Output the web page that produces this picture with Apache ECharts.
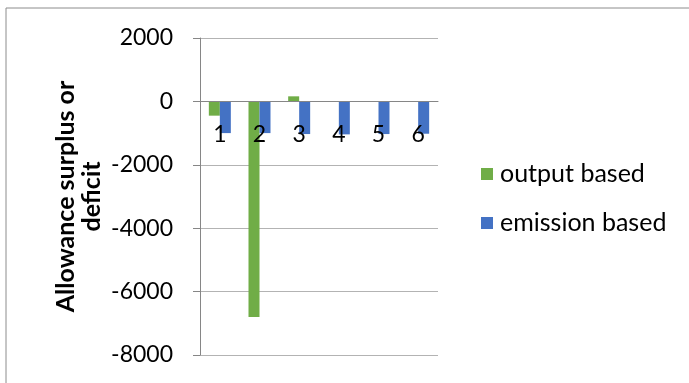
<!DOCTYPE html>
<html>
<head>
<meta charset="utf-8">
<script src="https://cdn.jsdelivr.net/npm/echarts@6/dist/echarts.min.js"></script>
<style>
  html, body { margin: 0; padding: 0; background: #fff; }
  #chart { width: 689px; height: 383px; }
</style>
</head>
<body>
<div id="chart"></div>
<script>
// Firms 1–6: allowance balance under two allocation schemes
const categories = ['1', '2', '3', '4', '5', '6'];
const outputBased = [-450, -6800, 160, 0, 0, 0];
const emissionBased = [-1000, -1000, -1030, -1040, -1030, -1020];
const yTicks = { min: -8000, max: 2000, interval: 2000 };

const FONT = 'Lato';
const GRID = { left: 200, right: 251, top: 38, bottom: 28 };
const CHART_H = 383;

// Category labels sit on the zero line: shift the bottom x axis up to y = 0
const plotH = CHART_H - GRID.top - GRID.bottom;
const zeroFromBottom = plotH * (0 - yTicks.min) / (yTicks.max - yTicks.min);

const chart = echarts.init(document.getElementById('chart'), null, { renderer: 'canvas' });

chart.setOption({
  animation: false,
  backgroundColor: '#fff',
  graphic: [{
    type: 'rect',
    shape: { x: 6, y: 8, width: 720, height: 420 },
    style: { fill: 'none', stroke: '#8c8c8c', lineWidth: 1 },
    silent: true
  }],
  grid: Object.assign({ outerBoundsMode: 'none', containLabel: false }, GRID),
  legend: {
    orient: 'vertical',
    left: 481,
    top: 161,
    padding: 0,
    itemWidth: 12,
    itemHeight: 12,
    itemGap: 23,
    icon: 'rect',
    textStyle: { fontFamily: FONT, fontSize: 25, lineHeight: 26, color: '#000', padding: [0, 0, 0, 2] },
    data: ['output based', 'emission based']
  },
  xAxis: {
    type: 'category',
    data: categories,
    position: 'bottom',
    offset: -zeroFromBottom,
    z: 10,
    axisLine: { onZero: false, lineStyle: { color: '#868686', width: 1 } },
    axisTick: { show: false },
    axisLabel: { fontFamily: FONT, fontSize: 23, color: '#000', margin: 22 }
  },
  yAxis: {
    type: 'value',
    min: yTicks.min,
    max: yTicks.max,
    interval: yTicks.interval,
    name: 'Allowance surplus or\ndeficit',
    nameLocation: 'middle',
    nameGap: 95,
    nameTextStyle: { fontFamily: FONT, fontSize: 25, fontWeight: 'bold', color: '#000', lineHeight: 26 },
    axisLine: { show: true, lineStyle: { color: '#868686', width: 1 } },
    axisTick: { show: true, length: 7, lineStyle: { color: '#868686' } },
    axisLabel: { fontFamily: FONT, fontSize: 23, color: '#000', margin: 27, formatter: v => String(v) },
    splitLine: { lineStyle: { color: '#b3b3b3', width: 1 } }
  },
  series: [
    {
      name: 'output based',
      type: 'bar',
      data: outputBased,
      barWidth: 11,
      barGap: '0%',
      itemStyle: { color: '#70ad47' }
    },
    {
      name: 'emission based',
      type: 'bar',
      data: emissionBased,
      barWidth: 11,
      itemStyle: { color: '#4472c4' }
    }
  ]
});
</script>
</body>
</html>
